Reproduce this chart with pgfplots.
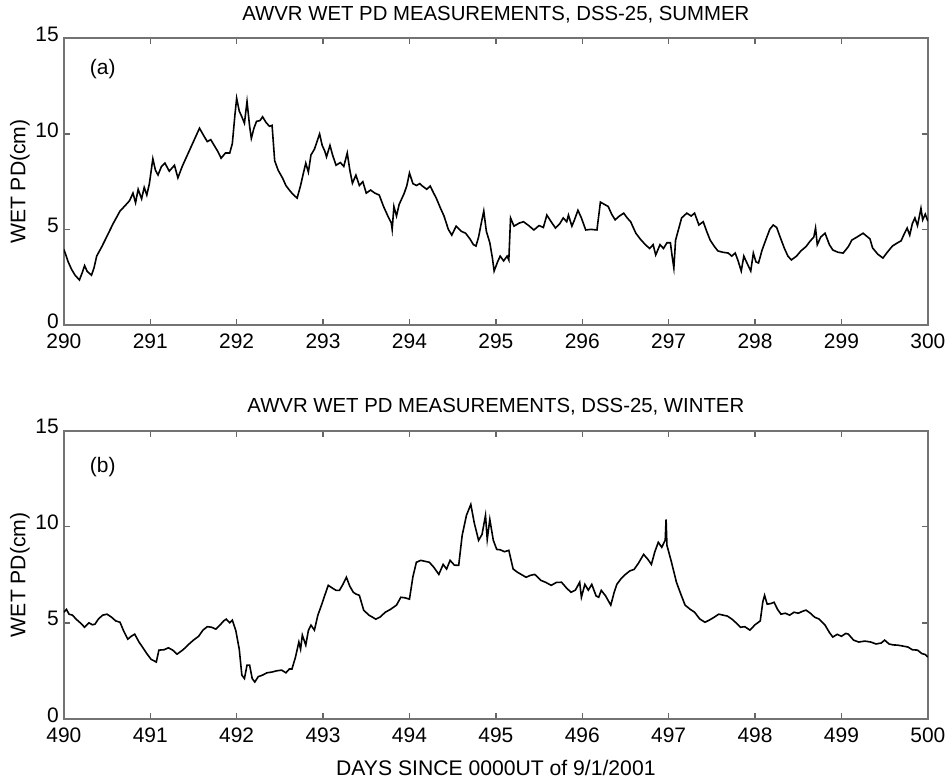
\documentclass[border=0pt]{standalone}
\usepackage{pgfplots}
\pgfplotsset{compat=1.18}
\usepackage{fontspec}
\setmainfont{Liberation Sans}
\pgfplotstableread{
x y
290.00 3.95
290.02 3.7
290.05 3.3
290.09 2.9
290.13 2.6
290.18 2.35
290.21 2.7
290.24 3.1
290.27 2.8
290.32 2.6
290.35 3.0
290.38 3.6
290.44 4.1
290.50 4.65
290.57 5.3
290.65 5.96
290.70 6.2
290.76 6.5
290.80 6.9
290.83 6.4
290.86 7.1
290.90 6.6
290.93 7.2
290.96 6.8
290.99 7.4
291.03 8.7
291.06 8.1
291.09 7.85
291.13 8.3
291.17 8.47
291.22 8.05
291.28 8.36
291.32 7.7
291.37 8.3
291.43 8.9
291.50 9.6
291.57 10.3
291.62 9.9
291.66 9.6
291.70 9.7
291.74 9.4
291.78 9.1
291.82 8.73
291.87 9.0
291.92 9.0
291.95 9.5
291.98 11.0
292.00 11.87
292.03 11.2
292.06 10.9
292.09 10.56
292.12 11.7
292.15 10.4
292.17 9.77
292.20 10.3
292.23 10.66
292.27 10.7
292.30 10.9
292.34 10.6
292.38 10.4
292.41 10.45
292.44 8.6
292.48 8.1
292.53 7.7
292.57 7.3
292.62 7.0
292.66 6.8
292.70 6.64
292.74 7.3
292.77 7.9
292.80 8.47
292.83 8.0
292.86 8.9
292.90 9.2
292.93 9.6
292.96 10.0
292.99 9.4
293.02 9.1
293.04 8.8
293.08 9.4
293.11 8.9
293.15 8.36
293.20 8.5
293.24 8.3
293.28 9.0
293.31 8.1
293.34 7.42
293.38 7.84
293.42 7.3
293.46 7.5
293.50 6.9
293.55 7.06
293.60 6.9
293.65 6.8
293.70 6.2
293.75 5.7
293.79 5.33
293.80 5.0
293.82 6.2
293.85 5.7
293.88 6.3
293.90 6.5
293.94 6.9
293.97 7.3
294.00 7.95
294.04 7.4
294.08 7.3
294.12 7.4
294.15 7.27
294.20 7.1
294.24 7.27
294.28 6.9
294.31 6.64
294.36 6.1
294.40 5.7
294.45 5.0
294.49 4.7
294.54 5.17
294.60 4.9
294.65 4.8
294.70 4.5
294.74 4.2
294.77 4.13
294.80 4.6
294.83 5.3
294.86 5.96
294.89 4.9
294.93 4.3
294.96 3.5
294.98 2.82
295.02 3.3
295.05 3.6
295.09 3.35
295.13 3.6
295.15 3.4
295.17 5.6
295.21 5.17
295.27 5.33
295.32 5.4
295.38 5.2
295.44 4.97
295.50 5.2
295.55 5.1
295.59 5.75
295.64 5.4
295.69 5.07
295.74 5.3
295.78 5.6
295.82 5.4
295.84 5.75
295.88 5.17
295.91 5.5
295.95 6.0
295.99 5.6
296.04 4.97
296.10 5.0
296.17 4.97
296.21 6.43
296.26 6.3
296.30 6.2
296.34 5.8
296.38 5.5
296.43 5.7
296.48 5.85
296.52 5.6
296.56 5.4
296.62 4.8
296.67 4.5
296.73 4.2
296.78 4.0
296.82 4.2
296.85 3.66
296.90 4.2
296.94 4.0
296.98 4.3
297.02 4.3
297.04 3.6
297.06 2.98
297.08 4.44
297.12 5.1
297.15 5.6
297.21 5.85
297.26 5.7
297.30 5.85
297.35 5.23
297.40 5.4
297.44 4.9
297.48 4.44
297.53 4.1
297.57 3.87
297.63 3.8
297.69 3.76
297.73 3.6
297.77 3.76
297.80 3.4
297.84 2.82
297.87 3.6
297.90 3.3
297.95 2.82
297.98 3.76
298.01 3.3
298.04 3.24
298.08 3.9
298.12 4.4
298.17 5.0
298.21 5.23
298.25 5.1
298.29 4.6
298.34 4.0
298.38 3.6
298.42 3.4
298.48 3.6
298.53 3.87
298.59 4.1
298.64 4.4
298.68 4.6
298.70 5.07
298.72 4.2
298.76 4.6
298.81 4.8
298.86 4.2
298.90 3.92
298.96 3.8
299.02 3.76
299.08 4.1
299.12 4.44
299.18 4.6
299.25 4.8
299.29 4.65
299.33 4.5
299.36 4.03
299.42 3.7
299.48 3.5
299.53 3.8
299.59 4.13
299.65 4.3
299.69 4.4
299.73 4.8
299.76 5.07
299.79 4.7
299.82 5.3
299.85 5.6
299.88 5.2
299.92 6.1
299.94 5.5
299.97 5.8
300.00 5.43
}\summer
\pgfplotstableread{
x y
490.00 5.55
490.03 5.7
490.06 5.45
490.10 5.4
490.14 5.2
490.19 5.0
490.24 4.77
490.29 5.0
490.33 4.9
490.36 4.93
490.40 5.2
490.45 5.4
490.50 5.45
490.55 5.3
490.60 5.1
490.65 5.03
490.69 4.6
490.74 4.15
490.78 4.3
490.82 4.41
490.87 4.0
490.91 3.74
490.96 3.4
491.01 3.1
491.07 2.96
491.10 3.58
491.16 3.6
491.21 3.7
491.26 3.58
491.31 3.37
491.38 3.6
491.45 3.9
491.50 4.1
491.56 4.3
491.61 4.62
491.66 4.8
491.71 4.77
491.76 4.67
491.81 4.9
491.85 5.1
491.88 5.19
491.92 5.0
491.95 5.14
491.99 4.6
492.03 3.63
492.06 2.28
492.09 2.1
492.12 2.8
492.15 2.8
492.18 2.1
492.21 1.92
492.25 2.2
492.30 2.28
492.35 2.4
492.41 2.44
492.46 2.5
492.52 2.54
492.57 2.4
492.61 2.6
492.64 2.6
492.68 3.2
492.72 4.0
492.74 3.63
492.76 4.36
492.80 3.84
492.83 4.6
492.86 4.88
492.90 4.62
492.94 5.4
492.98 5.9
493.02 6.43
493.06 6.95
493.11 6.8
493.15 6.69
493.19 6.69
493.23 7.0
493.27 7.37
493.31 6.9
493.35 6.59
493.38 6.5
493.42 6.43
493.47 5.66
493.53 5.4
493.57 5.3
493.61 5.19
493.66 5.3
493.72 5.55
493.78 5.7
493.85 5.92
493.90 6.33
493.95 6.3
494.00 6.23
494.04 7.4
494.08 8.15
494.13 8.25
494.18 8.2
494.23 8.15
494.28 7.9
494.34 7.52
494.39 8.04
494.43 7.8
494.47 8.25
494.52 8.0
494.57 7.99
494.61 9.55
494.66 10.6
494.71 11.16
494.75 10.2
494.80 9.29
494.84 9.6
494.88 10.59
494.90 9.34
494.93 10.38
494.97 9.3
495.01 8.82
495.05 8.8
495.10 8.7
495.15 8.77
495.20 7.8
495.25 7.63
495.30 7.5
495.35 7.37
495.40 7.47
495.45 7.52
495.52 7.21
495.58 7.1
495.64 6.95
495.70 7.1
495.76 7.11
495.82 6.8
495.87 6.59
495.92 6.7
495.97 7.11
495.99 6.33
496.03 7.0
496.07 6.7
496.11 7.0
496.16 6.4
496.19 6.33
496.22 6.69
496.27 6.4
496.33 5.92
496.37 6.6
496.40 7.0
496.45 7.3
496.50 7.52
496.55 7.7
496.60 7.78
496.65 8.1
496.71 8.56
496.76 8.3
496.80 8.04
496.84 8.7
496.88 9.19
496.92 8.93
496.96 9.3
496.97 10.38
496.98 9.03
497.03 8.2
497.09 7.11
497.14 6.5
497.19 5.92
497.25 5.7
497.30 5.55
497.36 5.2
497.42 5.03
497.47 5.14
497.53 5.3
497.58 5.45
497.63 5.4
497.68 5.35
497.73 5.2
497.78 5.0
497.83 4.77
497.88 4.8
497.94 4.62
498.00 4.9
498.06 5.1
498.09 6.1
498.11 6.43
498.14 5.97
498.18 6.0
498.22 6.07
498.26 5.7
498.30 5.45
498.35 5.5
498.40 5.4
498.45 5.55
498.50 5.5
498.55 5.6
498.59 5.66
498.64 5.5
498.69 5.29
498.74 5.2
498.81 4.88
498.86 4.5
498.90 4.26
498.95 4.4
499.00 4.3
499.05 4.45
499.08 4.41
499.14 4.1
499.20 4.0
499.27 4.05
499.34 4.0
499.40 3.9
499.46 3.95
499.50 4.1
499.55 3.9
499.60 3.85
499.65 3.84
499.70 3.8
499.77 3.74
499.82 3.6
499.88 3.58
499.93 3.4
499.97 3.35
500.00 3.22
}\winter
\pgfplotsset{
  wetax/.style={
    scale only axis,
    anchor=south west,
    width=433pt,
    ymin=0, ymax=15,
    ytick={0,5,10,15},
    xtick distance=1,
    tick align=inside,
    major tick length=3pt,
    axis line style={black!55, line width=1pt},
    every tick/.style={black!60, line width=0.7pt},
    tick label style={font=\fontsize{10.5}{12}\selectfont},
    label style={font=\fontsize{10.6}{12}\selectfont},
    title style={font=\fontsize{10.2}{12}\selectfont, yshift=-2pt},
    /pgf/number format/assume math mode=true,
    /pgf/number format/1000 sep={},
    ylabel={WET PD(cm)},
    ylabel style={yshift=-4pt},
    xticklabel style={yshift=-1pt},
    yticklabel style={xshift=1pt, yshift=2pt},
  }
}
\begin{document}
\begin{tikzpicture}
\path (0,0) rectangle (476pt,388pt);
\begin{axis}[wetax,
  at={(32pt,227pt)}, height=143.5pt,
  xmin=290, xmax=300,
  title={AWVR WET PD MEASUREMENTS, DSS-25, SUMMER}]
\addplot[black, line width=0.8pt, no markers] table[x=x,y=y] {\summer};
\node[anchor=center, font=\fontsize{10.5}{12}\selectfont] at (axis cs:290.45,13.4) {(a)};
\end{axis}
\begin{axis}[wetax,
  at={(32pt,29.5pt)}, height=144.5pt,
  xmin=490, xmax=500,
  title={AWVR WET PD MEASUREMENTS, DSS-25, WINTER},
  xlabel={DAYS SINCE 0000UT of 9/1/2001},
  xlabel style={yshift=-2pt}]
\addplot[black, line width=0.8pt, no markers] table[x=x,y=y] {\winter};
\node[anchor=center, font=\fontsize{10.5}{12}\selectfont] at (axis cs:490.45,13.1) {(b)};
\end{axis}
\end{tikzpicture}
\end{document}
